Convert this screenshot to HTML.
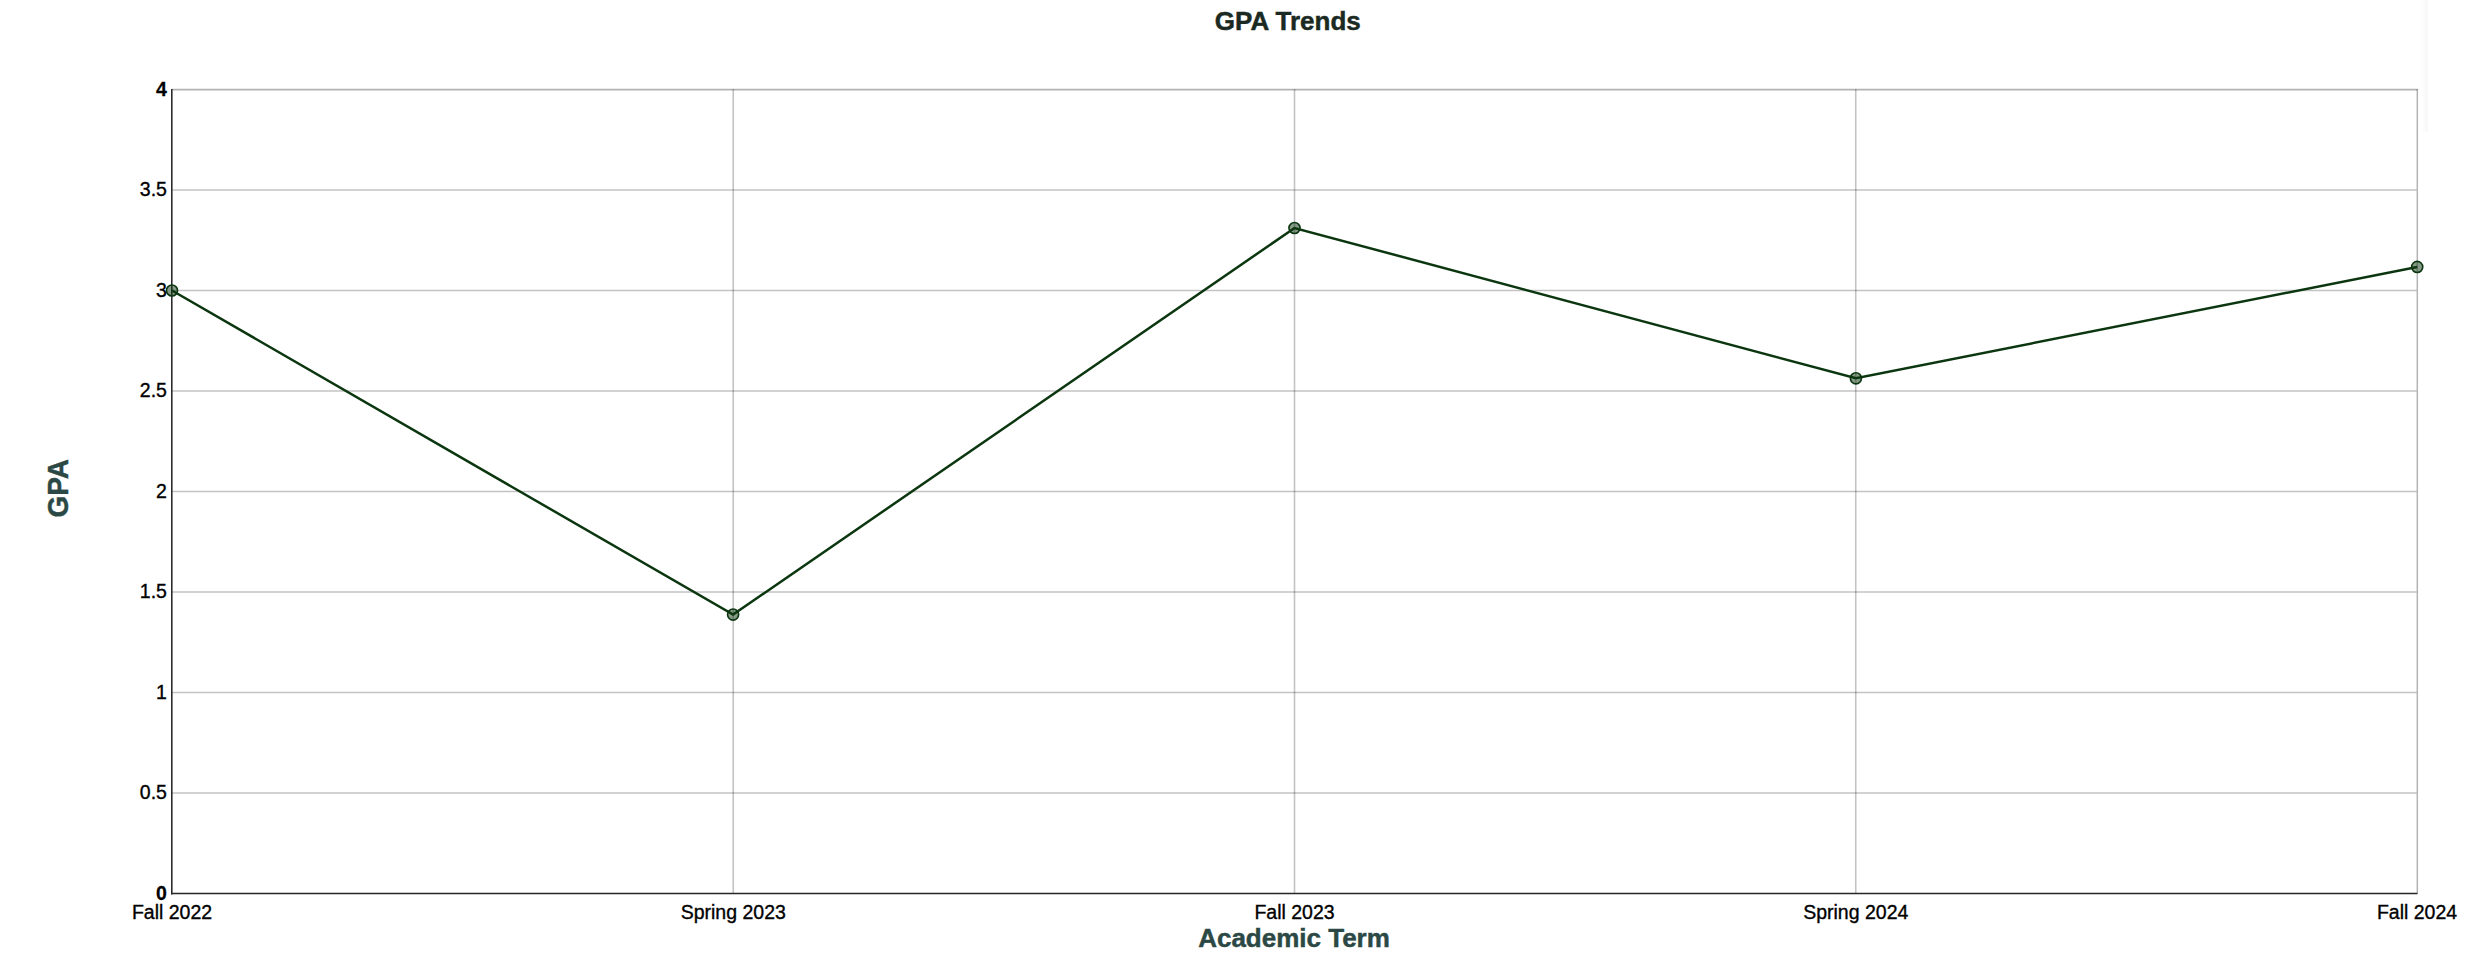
<!DOCTYPE html>
<html lang="en"><head><meta charset="utf-8"><title>GPA Trends</title>
<style>
html,body{margin:0;padding:0;background:#fff;}
body{width:2492px;height:974px;overflow:hidden;position:relative;}
svg{position:absolute;left:0;top:0;display:block;}
text{font-family:"Liberation Sans",Arial,Helvetica,sans-serif;}
.tick{font-size:20px;fill:#000;stroke:#000;stroke-width:0.35px;}
.tb{font-weight:bold;stroke-width:0.25px;}
.ttl{font-size:26px;font-weight:bold;fill:#1a2922;stroke:#1a2922;stroke-width:0.45px;}
.ax{font-size:26px;font-weight:bold;fill:#2b4845;stroke:#2b4845;stroke-width:0.45px;}
.ay{font-size:30px;}
</style></head><body>
<svg width="2492" height="974" viewBox="0 0 2492 974">
<defs><linearGradient id="fade" x1="0" x2="1" y1="0" y2="0"><stop offset="0" stop-color="#000" stop-opacity="0"/><stop offset="1" stop-color="#000" stop-opacity="0.03"/></linearGradient></defs>
<rect x="2420" y="0" width="8" height="132" fill="url(#fade)"/>
<g stroke="#000" stroke-opacity="0.235" stroke-width="1.6">
<line x1="172" x2="2416.6" y1="793.0" y2="793.0"/>
<line x1="172" x2="2416.6" y1="692.5" y2="692.5"/>
<line x1="172" x2="2416.6" y1="592.0" y2="592.0"/>
<line x1="172" x2="2416.6" y1="491.5" y2="491.5"/>
<line x1="172" x2="2416.6" y1="391.0" y2="391.0"/>
<line x1="172" x2="2416.6" y1="290.5" y2="290.5"/>
<line x1="172" x2="2416.6" y1="190.0" y2="190.0"/>
<line x1="733.25" x2="733.25" y1="88.9" y2="893.5"/>
<line x1="1294.5" x2="1294.5" y1="88.9" y2="893.5"/>
<line x1="1855.75" x2="1855.75" y1="88.9" y2="893.5"/>
</g>
<line x1="172" x2="2417.6" y1="89.6" y2="89.6" stroke="#000" stroke-opacity="0.3" stroke-width="1.6"/>
<line x1="2417.3" x2="2417.3" y1="88.9" y2="893.5" stroke="#000" stroke-opacity="0.3" stroke-width="1.45"/>
<g stroke="#262626" stroke-width="1.55"><line x1="171.8" x2="171.8" y1="89.0" y2="894.4"/><line x1="171" x2="2417.5" y1="893.5" y2="893.5"/></g>
<polyline points="172,290.5 733.1,614.6 1294.5,228.0 1855.9,378.3 2417.2,266.9" fill="none" stroke="#0b360f" stroke-width="2.5" stroke-linejoin="miter"/>
<circle cx="172" cy="290.5" r="5.55" fill="#0b360f" fill-opacity="0.5" stroke="#0b360f" stroke-width="1.6"/>
<circle cx="733.1" cy="614.6" r="5.55" fill="#0b360f" fill-opacity="0.5" stroke="#0b360f" stroke-width="1.6"/>
<circle cx="1294.5" cy="228.0" r="5.55" fill="#0b360f" fill-opacity="0.5" stroke="#0b360f" stroke-width="1.6"/>
<circle cx="1855.9" cy="378.3" r="5.55" fill="#0b360f" fill-opacity="0.5" stroke="#0b360f" stroke-width="1.6"/>
<circle cx="2417.2" cy="266.9" r="5.55" fill="#0b360f" fill-opacity="0.5" stroke="#0b360f" stroke-width="1.6"/>
<text class="tick tb" transform="translate(166.9,899.9) scale(0.975,1)" text-anchor="end">0</text>
<text class="tick" transform="translate(166.9,799.4) scale(0.975,1)" text-anchor="end">0.5</text>
<text class="tick" transform="translate(166.9,698.9) scale(0.975,1)" text-anchor="end">1</text>
<text class="tick" transform="translate(166.9,598.4) scale(0.975,1)" text-anchor="end">1.5</text>
<text class="tick" transform="translate(166.9,497.9) scale(0.975,1)" text-anchor="end">2</text>
<text class="tick" transform="translate(166.9,397.4) scale(0.975,1)" text-anchor="end">2.5</text>
<text class="tick" transform="translate(166.9,296.9) scale(0.975,1)" text-anchor="end">3</text>
<text class="tick" transform="translate(166.9,196.4) scale(0.975,1)" text-anchor="end">3.5</text>
<text class="tick tb" transform="translate(166.9,95.9) scale(0.975,1)" text-anchor="end">4</text>
<text class="tick" transform="translate(172,919) scale(0.975,1)" text-anchor="middle">Fall 2022</text>
<text class="tick" transform="translate(733.25,919) scale(0.975,1)" text-anchor="middle">Spring 2023</text>
<text class="tick" transform="translate(1294.5,919) scale(0.975,1)" text-anchor="middle">Fall 2023</text>
<text class="tick" transform="translate(1855.75,919) scale(0.975,1)" text-anchor="middle">Spring 2024</text>
<text class="tick" transform="translate(2417,919) scale(0.975,1)" text-anchor="middle">Fall 2024</text>
<text class="ttl" x="1287.8" y="30.4" text-anchor="middle">GPA Trends</text>
<text class="ax" x="1294" y="946.8" text-anchor="middle">Academic Term</text>
<text class="ax ay" transform="translate(67.7,488.2) rotate(-90) scale(0.933,1)" text-anchor="middle">GPA</text>
</svg>
</body></html>
